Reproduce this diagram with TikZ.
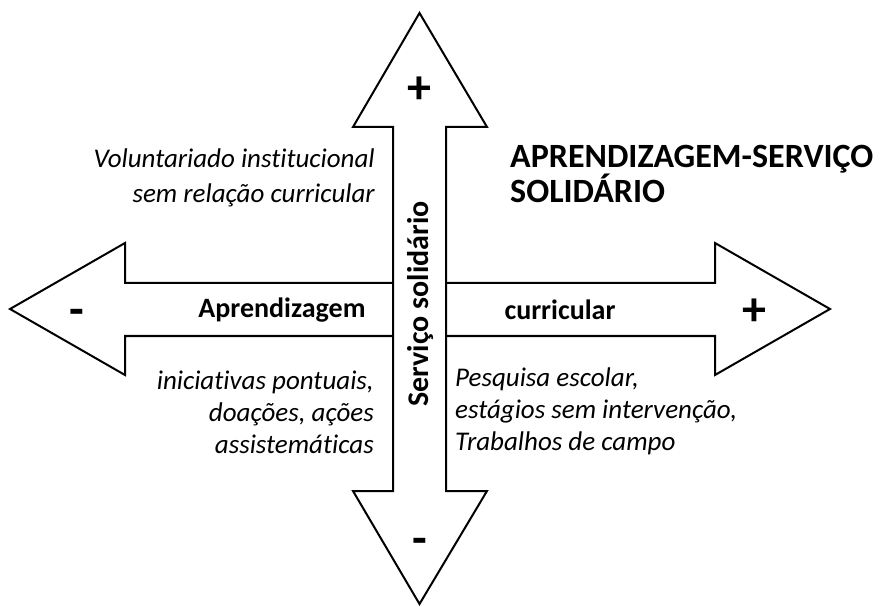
\documentclass[tikz,border=0pt]{standalone}
\usepackage{fontspec}
\setmainfont{Carlito}[Ligatures=NoCommon]
\usetikzlibrary{positioning}

\begin{document}
\begin{tikzpicture}[x=1pt,y=1pt,
        seta/.style={draw=black,fill=white,line width=2pt,line join=miter},
        rotulo/.style={font=\fontsize{28}{30}\selectfont\bfseries,inner sep=0pt},
        sinal/.style={font=\fontsize{48}{48}\selectfont\bfseries,inner sep=0pt},
        nota/.style={font=\fontsize{27}{32}\selectfont\itshape,inner sep=0pt},
        titulo/.style={font=\fontsize{34}{33}\selectfont\bfseries,inner sep=0pt,align=left}]
        \useasboundingbox (0,0) rectangle (881,606);
        % freccia orizzontale
        \draw[seta] (10,297) -- (125,363) -- (125,323) -- (715,323) -- (715,363) -- (830,297)
            -- (715,231) -- (715,270) -- (125,270) -- (125,231) -- cycle;
        % freccia verticale
        \draw[seta] (419.5,593) -- (487,479) -- (446,479) -- (446,115) -- (487,115) -- (419.5,2)
            -- (353,115) -- (393,115) -- (393,479) -- (353,479) -- cycle;
        % segni
        \node[sinal] (maisH) at (754,294) {+};
        \node[sinal] (menosH) at (77,289) {-};
        \node[sinal] (maisV) at (419.5,516) {+};
        \node[sinal] (menosV) at (419.5,60) {-};
        % etichette degli assi
        \node[rotulo,anchor=base] (aprend) at (282,288) {Aprendizagem};
        \node[rotulo,anchor=base] (curric) at (560,287) {curricular};
        \node[rotulo,font=\fontsize{30}{30}\selectfont\bfseries,rotate=90] (servico) at (420,302) {Serviço solidário};
        % titolo
        \node[titulo,anchor=west] (titulo) at (510,432) {APRENDIZAGEM-SERVIÇO\\SOLIDÁRIO};
        % quadranti
        \node[nota,font=\fontsize{27}{35}\selectfont\itshape,align=right,anchor=east] (volunt) at (375,428) {Voluntariado institucional\\sem relação curricular};
        \node[nota,align=right,anchor=east] (inic) at (374,194) {iniciativas pontuais,\\doações, ações\hspace*{0.25em}\\assistemáticas};
        \node[nota,align=left,anchor=west] (pesq) at (455,195) {Pesquisa escolar,\\estágios sem intervenção,\\Trabalhos de campo};
    \end{tikzpicture}
\end{document}
